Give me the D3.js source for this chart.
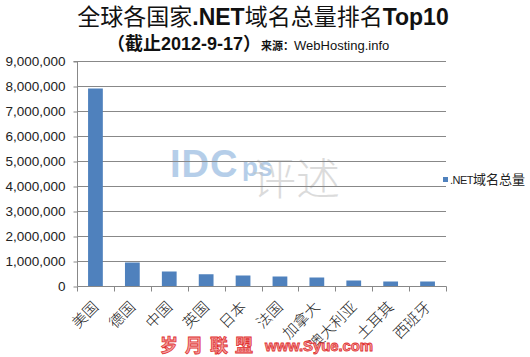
<!DOCTYPE html>
<html><head><meta charset="utf-8">
<script src="https://cdn.jsdelivr.net/npm/d3@7"></script>
<style>body{margin:0;background:#fff}svg{display:block}</style>
</head><body>
<svg id="c" width="530" height="357"></svg>
<script>
const categories = ["美国","德国","中国","英国","日本","法国","加拿大","澳大利亚","土耳其","西班牙"];
const values = [7900000,940000,580000,470000,420000,380000,340000,220000,180000,180000];
const yTicks = [0,1000000,2000000,3000000,4000000,5000000,6000000,7000000,8000000,9000000];
const seriesName = ".NET域名总量";

const svg = d3.select("#c");
const m = {l:77, r:446, t:61, b:286};
const x = d3.scaleBand().domain(categories).range([m.l, m.r]).paddingInner(0.6).paddingOuter(0.3);
const xb = d3.scaleBand().domain(categories).range([m.l, m.r]);
const y = d3.scaleLinear().domain([0, 9000000]).range([m.b, m.t]);

// watermarks
svg.append("text").attr("x",170).attr("y",177).attr("font-family","Liberation Sans, Arial").attr("font-weight","bold")
  .attr("font-size",38).attr("letter-spacing",1).attr("fill","#a9c6e6").attr("opacity",0.85).text("IDC");
svg.append("text").attr("x",242).attr("y",176).attr("font-family","Liberation Sans, Arial").attr("font-weight","bold")
  .attr("font-size",26).attr("fill","#a9c6e6").attr("opacity",0.85).text("ps");
svg.append("text").attr("x",252).attr("y",195).attr("font-family","Noto Sans CJK SC").attr("font-size",44)
  .attr("fill","#c4c4c4").attr("opacity",0.6).attr("font-weight",300).text("评述");

// gridlines
svg.append("g").selectAll("line").data(yTicks.slice(1)).join("line")
  .attr("x1",m.l).attr("x2",m.r).attr("y1",d=>Math.round(y(d))+0.5).attr("y2",d=>Math.round(y(d))+0.5)
  .attr("stroke","#888").attr("stroke-width",1);

// bars
svg.append("g").selectAll("rect").data(values).join("rect")
  .attr("x",(d,i)=>x(categories[i])).attr("width",x.bandwidth())
  .attr("y",d=>y(d)).attr("height",d=>y(0)-y(d)).attr("fill","#4f81bd");

// y axis
const ya = svg.append("g").attr("transform",`translate(${m.l+0.5},0.5)`)
  .call(d3.axisLeft(y).tickValues(yTicks).tickFormat(d3.format(",")).tickSize(4).tickPadding(8));
ya.select(".domain").attr("stroke","#888").attr("d",`M-4,${Math.round(m.t)}H0V${Math.round(m.b)}`);
ya.selectAll(".tick line").attr("stroke","#888");
ya.selectAll("text").attr("font-family","Liberation Sans, Arial").attr("font-size",13.5).attr("fill","#222");

// x axis
const xa = svg.append("g").attr("transform",`translate(0.5,${m.b+0.5})`)
  .call(d3.axisBottom(xb).tickSize(0).tickFormat(""));
xa.select(".domain").attr("stroke","#888").attr("d",`M${m.l},0H${m.r}`);
xa.selectAll(".tick").remove();
xa.selectAll("line.t").data(d3.range(categories.length+1)).join("line").attr("class","t")
  .attr("x1",i=>Math.round(m.l+i*xb.step())).attr("x2",i=>Math.round(m.l+i*xb.step()))
  .attr("y1",0).attr("y2",5).attr("stroke","#888");

svg.append("g").selectAll("text").data(categories).join("text")
  .attr("transform",d=>`translate(${xb(d)+xb.bandwidth()/2+4},${m.b+22}) rotate(-45)`)
  .attr("text-anchor","end").attr("font-family","Noto Sans CJK SC").attr("font-size",15).attr("font-weight",300)
  .attr("fill","#222").text(d=>d);

// title
const t1 = svg.append("text").attr("x",263).attr("y",25).attr("text-anchor","middle")
  .attr("font-family","Noto Sans CJK SC, Liberation Sans").attr("font-size",23).attr("fill","#111");
t1.append("tspan").text("全球各国家");
t1.append("tspan").attr("font-family","Liberation Sans").attr("font-weight","bold").text(".NET");
t1.append("tspan").text("域名总量排名");
t1.append("tspan").attr("font-family","Liberation Sans").attr("font-weight","bold").text("Top10");

const t2 = svg.append("text").attr("x",107).attr("y",50).attr("fill","#111");
t2.append("tspan").attr("font-family","Noto Sans CJK SC").attr("font-weight","bold").attr("font-size",18).text("（截止");
t2.append("tspan").attr("font-family","Liberation Sans").attr("font-weight","bold").attr("font-size",18).text("2012-9-17");
t2.append("tspan").attr("font-family","Noto Sans CJK SC").attr("font-weight","bold").attr("font-size",18).text("）");
t2.append("tspan").attr("font-family","Noto Sans CJK SC").attr("font-weight","bold").attr("font-size",11).text("来源：");
t2.append("tspan").attr("font-family","Liberation Sans").attr("font-size",13).text("WebHosting.info");

// legend
svg.append("rect").attr("x",443).attr("y",177).attr("width",5).attr("height",5).attr("fill","#4f81bd");
const lg = svg.append("text").attr("x",450).attr("y",184).attr("fill","#222");
lg.append("tspan").attr("font-family","Liberation Sans").attr("font-size",11).attr("letter-spacing",-0.5).text(".NET");
lg.append("tspan").attr("font-family","Noto Sans CJK SC").attr("font-size",13).text("域名总量");

// bottom watermark
svg.append("text").attr("x",160).attr("y",352).attr("font-family","Noto Sans CJK SC").attr("font-weight","bold")
  .attr("font-size",18).attr("fill","#f4a0a0").attr("stroke","#e03030").attr("stroke-width",0.8).attr("letter-spacing",7).text("岁月联盟");
svg.append("text").attr("x",265).attr("y",351).attr("font-family","Liberation Sans").attr("font-weight","bold")
  .attr("font-size",15).attr("textLength",108).attr("fill","#f4a0a0").attr("stroke","#e03030").attr("stroke-width",0.8).text("www.Syue.com");
</script>
</body></html>
